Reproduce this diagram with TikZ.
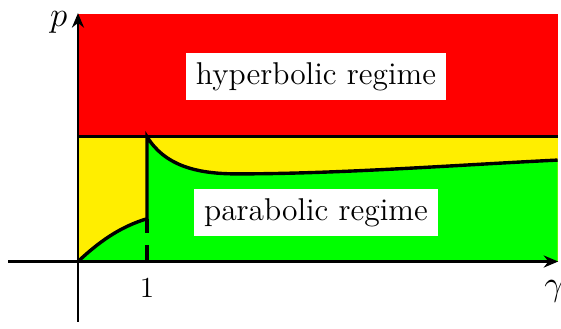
\documentclass[tikz,border=0pt]{standalone}
\usetikzlibrary{arrows.meta,positioning}
\definecolor{hypred}{RGB}{255,0,0}
\definecolor{gapyellow}{RGB}{255,238,0}
\definecolor{pargreen}{RGB}{0,255,0}

\begin{document}
\begin{tikzpicture}[
    bound/.style={line width=1.4pt},
    axis/.style={line width=0.9pt,-{Stealth[length=6pt,width=5pt]}},
    regime/.style={fill=white,font=\fontsize{13}{15}\selectfont,inner sep=4pt}]
  \useasboundingbox (-1.13,-0.97) rectangle (7.0,3.79);
  % corner points of the regions
  \coordinate (O) at (0,0);
  \coordinate (A) at (1,0.62);
  \coordinate (B) at (1,1.81);
  \coordinate (M) at (2.3,1.27);
  \coordinate (C) at (6.95,1.47);
  \coordinate (D) at (6.95,1.81);
  \coordinate (E) at (6.95,0);
  \coordinate (L) at (0,1.81);
  \coordinate (T) at (6.95,3.58);

  % regions
  \fill[hypred] (L) rectangle (T);
  \fill[gapyellow] (O) rectangle (D);
  \fill[pargreen] (O) .. controls (0.3,0.28) and (0.6,0.5) .. (A) -- (B)
    .. controls (1.25,1.4) and (1.7,1.27) .. (M)
    .. controls (3.8,1.27) and (5.5,1.4) .. (C) -- (E) -- cycle;

  % boundaries
  \draw[bound] (L) -- (D);
  \draw[bound] (O) .. controls (0.3,0.28) and (0.6,0.5) .. (A) -- (B)
    .. controls (1.25,1.4) and (1.7,1.27) .. (M)
    .. controls (3.8,1.27) and (5.5,1.4) .. (C);
  \draw[bound,dash pattern=on 6pt off 5pt] (A) -- (1,0);

  % axes
  \coordinate (xl) at (-1.01,0);
  \coordinate (xr) at (6.96,0);
  \coordinate (yb) at (0,-0.87);
  \coordinate (yt) at (0,3.6);
  \draw[axis] (xl) -- (xr);
  \draw[axis] (yb) -- (yt);

  % labels
  \node[regime] (hyp) at (3.45,2.68) {hyperbolic regime};
  \node[regime] (par) at (3.45,0.71) {parabolic regime};
  \node[font=\Large,inner sep=1pt] (p) at (-0.28,3.46) {$p$};
  \node[font=\large] (one) at (1,-0.38) {1};
  \node[font=\Large] (gam) at (6.9,-0.43) {$\gamma$};
\end{tikzpicture}
\end{document}
